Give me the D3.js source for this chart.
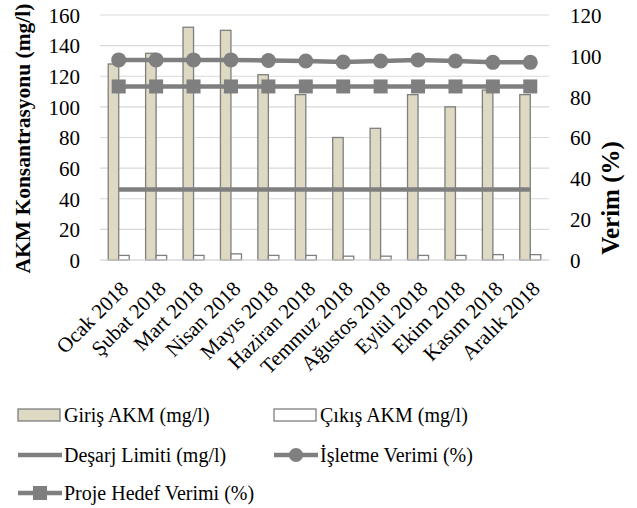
<!DOCTYPE html>
<html>
<head>
<meta charset="utf-8">
<script src="https://cdn.jsdelivr.net/npm/d3@7"></script>
<style>
  body { margin: 0; background: #fff; }
  text { font-family: "Liberation Serif", "Times New Roman", serif; fill: #000; }
</style>
</head>
<body>
<div class="chart"></div>
<script>
// Data
var months = ["Ocak 2018", "Şubat 2018", "Mart 2018", "Nisan 2018", "Mayıs 2018", "Haziran 2018",
  "Temmuz 2018", "Ağustos 2018", "Eylül 2018", "Ekim 2018", "Kasım 2018", "Aralık 2018"];
var giris = [128, 135, 152, 150, 121, 108, 80, 86, 108, 100, 111, 108];
var cikis = [3, 3, 3, 4, 3, 3, 2.5, 2.5, 3, 3, 3.5, 3.5];
var desarj = [46, 46, 46, 46, 46, 46, 46, 46, 46, 46, 46, 46];
var isletme = [98, 98, 98, 98, 97.7, 97.5, 97, 97.5, 98, 97.5, 96.8, 96.8];
var hedef = [85, 85, 85, 85, 85, 85, 85, 85, 85, 85, 85, 85];
var leftTicks = [0, 20, 40, 60, 80, 100, 120, 140, 160];
var rightTicks = [0, 20, 40, 60, 80, 100, 120];

var svgWidth = 637;
var svgHeight = 508;

var margin = { top: 15, right: 88, bottom: 248, left: 100 };
var width = svgWidth - margin.left - margin.right;
var height = svgHeight - margin.top - margin.bottom;

var gray = "#7f7f7f";
var tan = "#ddd9c3";

var svg = d3.select(".chart")
  .append("svg")
  .attr("width", svgWidth)
  .attr("height", svgHeight);

var chartGroup = svg.append("g")
  .attr("transform", `translate(${margin.left}, ${margin.top})`);

// scales
var x0 = d3.scaleBand().domain(months).range([0, width]);
var x1 = d3.scaleBand().domain(["giris", "cikis"]).range([0, x0.bandwidth()]).paddingOuter(0.78);
var yLeft = d3.scaleLinear().domain([0, 160]).range([height, 0]);
var yRight = d3.scaleLinear().domain([0, 120]).range([height, 0]);
var cx = d => x0(d) + x0.bandwidth() / 2;

// gridlines
chartGroup.append("g")
  .selectAll("line")
  .data(leftTicks)
  .enter()
  .append("line")
  .attr("x1", 0)
  .attr("x2", width)
  .attr("y1", d => yLeft(d))
  .attr("y2", d => yLeft(d))
  .attr("stroke", "#d9d9d9")
  .attr("stroke-width", 1.2);

// axes
var leftAxis = d3.axisLeft(yLeft).tickValues(leftTicks).tickSize(0).tickPadding(20);
var rightAxis = d3.axisRight(yRight).tickValues(rightTicks).tickSize(0).tickPadding(21);

chartGroup.append("g").call(leftAxis)
  .call(g => g.select(".domain").remove())
  .selectAll("text").style("font-size", "21px").attr("dy", "0.35em");

chartGroup.append("g").attr("transform", `translate(${width}, 0)`).call(rightAxis)
  .call(g => g.select(".domain").remove())
  .selectAll("text").style("font-size", "21px").attr("dy", "0.35em");

// bars
var barGroups = chartGroup.selectAll(".month")
  .data(months)
  .enter()
  .append("g")
  .attr("transform", d => `translate(${x0(d)}, 0)`);

barGroups.append("rect")
  .attr("x", x1("giris"))
  .attr("width", x1.bandwidth())
  .attr("y", (d, i) => yLeft(giris[i]))
  .attr("height", (d, i) => height - yLeft(giris[i]))
  .attr("fill", tan)
  .attr("stroke", gray)
  .attr("stroke-width", 1.3);

barGroups.append("rect")
  .attr("x", x1("cikis"))
  .attr("width", x1.bandwidth())
  .attr("y", (d, i) => yLeft(cikis[i]))
  .attr("height", (d, i) => height - yLeft(cikis[i]))
  .attr("fill", "#fff")
  .attr("stroke", gray)
  .attr("stroke-width", 1.3);

// baseline
chartGroup.append("line")
  .attr("x1", 0).attr("x2", width)
  .attr("y1", height).attr("y2", height)
  .attr("stroke", "#d9d9d9").attr("stroke-width", 1.2);

// lines
var lineLeft = d3.line().x((d, i) => cx(months[i])).y(d => yLeft(d));
var lineRight = d3.line().x((d, i) => cx(months[i])).y(d => yRight(d));

chartGroup.append("path")
  .attr("d", lineLeft(desarj))
  .attr("fill", "none").attr("stroke", gray).attr("stroke-width", 4.5);

chartGroup.append("path")
  .attr("d", lineRight(hedef))
  .attr("fill", "none").attr("stroke", gray).attr("stroke-width", 4.5);

chartGroup.selectAll(".sq")
  .data(hedef)
  .enter()
  .append("rect")
  .attr("x", (d, i) => cx(months[i]) - 7)
  .attr("y", d => yRight(d) - 7)
  .attr("width", 14).attr("height", 14)
  .attr("fill", gray);

chartGroup.append("path")
  .attr("d", lineRight(isletme))
  .attr("fill", "none").attr("stroke", gray).attr("stroke-width", 4.5);

chartGroup.selectAll(".dot")
  .data(isletme)
  .enter()
  .append("circle")
  .attr("cx", (d, i) => cx(months[i]))
  .attr("cy", d => yRight(d))
  .attr("r", 7.5)
  .attr("fill", gray);

// month labels
chartGroup.append("g")
  .selectAll("text")
  .data(months)
  .enter()
  .append("text")
  .attr("transform", d => `translate(${cx(d) + 11}, ${height + 30}) rotate(-45)`)
  .style("text-anchor", "end")
  .style("font-size", "21px")
  .text(d => d);

// axis titles
svg.append("text")
  .attr("transform", `translate(30, ${margin.top + height / 2 + 1}) rotate(-90)`)
  .style("text-anchor", "middle")
  .style("font-size", "21.5px")
  .style("font-weight", "bold")
  .text("AKM Konsantrasyonu (mg/l)");

svg.append("text")
  .attr("transform", `translate(619, 198) rotate(-90)`)
  .style("text-anchor", "middle")
  .style("font-size", "25px")
  .style("font-weight", "bold")
  .text("Verim (%)");

// legend
var legend = svg.append("g");
var items = [
  { name: "Giriş AKM (mg/l)", type: "bar", fill: tan, x: 18, y: 415 },
  { name: "Çıkış AKM (mg/l)", type: "bar", fill: "#fff", x: 274, y: 415 },
  { name: "Deşarj Limiti (mg/l)", type: "line", x: 18, y: 455 },
  { name: "İşletme Verimi (%)", type: "circle", x: 274, y: 455 },
  { name: "Proje Hedef Verimi (%)", type: "square", x: 18, y: 493 }
];

items.forEach(function (it) {
  var g = legend.append("g").attr("transform", `translate(${it.x}, ${it.y})`);
  if (it.type === "bar") {
    g.append("rect")
      .attr("x", 0).attr("y", -6).attr("width", 42).attr("height", 12)
      .attr("fill", it.fill).attr("stroke", gray).attr("stroke-width", 1.3);
  } else {
    g.append("line")
      .attr("x1", 0).attr("x2", 44).attr("y1", 0).attr("y2", 0)
      .attr("stroke", gray).attr("stroke-width", 4.5);
    if (it.type === "circle") {
      g.append("circle").attr("cx", 22).attr("cy", 0).attr("r", 7).attr("fill", gray);
    }
    if (it.type === "square") {
      g.append("rect").attr("x", 15).attr("y", -7).attr("width", 14).attr("height", 14).attr("fill", gray);
    }
  }
  g.append("text")
    .attr("x", 46)
    .attr("y", 0)
    .attr("dy", "0.35em")
    .style("font-size", "20px")
    .text(it.name);
});
</script>
</body>
</html>
